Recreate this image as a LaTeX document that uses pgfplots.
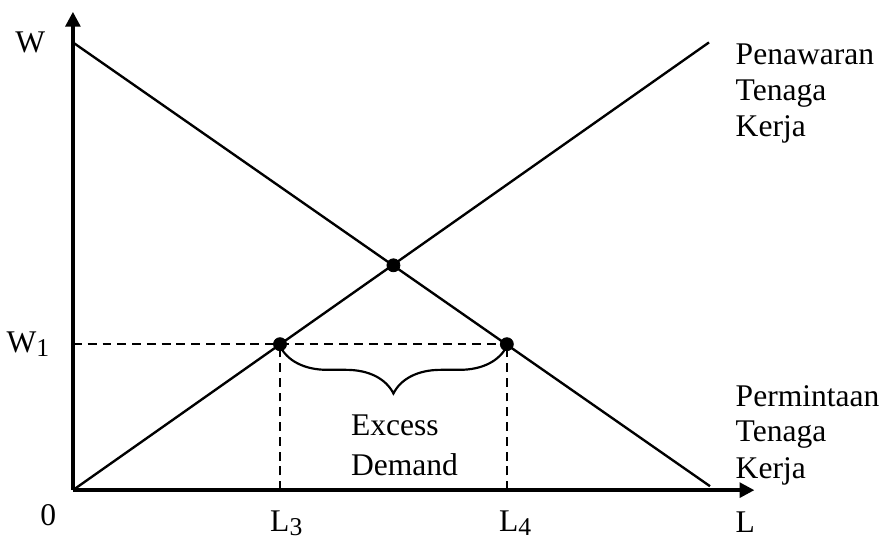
\documentclass[border=0pt]{standalone}
\usepackage{fontspec}
\setmainfont{Liberation Serif}
\usepackage{pgfplots}
\pgfplotsset{compat=1.18}
\usetikzlibrary{arrows.meta,decorations.pathreplacing}
\newcommand{\sub}[1]{\raisebox{-0.3ex}{\fontsize{13}{13}\selectfont #1}}

\begin{document}
\begin{tikzpicture}[font=\fontsize{16}{19}\selectfont]
\begin{axis}[
    x=0.5pt, y=0.5pt,
    xmin=0, xmax=691, ymin=0, ymax=485,
    enlargelimits=false,
    axis lines=left,
    axis line style={line width=1.7pt, -{Triangle[length=7.5pt,width=7.5pt]}},
    xtick=\empty, ytick=\empty,
    clip=false,
    every node/.append style={inner sep=0pt},
]
% kurva penawaran dan permintaan
\addplot[black, line width=1.2pt] coordinates {(0,0) (645,454)};
\addplot[black, line width=1.2pt] coordinates {(0,454) (646,4)};
% garis putus-putus
\addplot[black, line width=1pt, dash pattern=on 4.5pt off 3pt] coordinates {(0,148) (440,148)};
\addplot[black, line width=1pt, dash pattern=on 4.5pt off 3pt] coordinates {(210,0) (210,148)};
\addplot[black, line width=1pt, dash pattern=on 4.5pt off 3pt] coordinates {(440,0) (440,148)};
% titik
\addplot[only marks, mark=*, mark size=3.3pt, black] coordinates {(210,148) (440,148) (325,228)};
% kurung kurawal
\draw[line width=1.1pt, decorate, decoration={brace, mirror, amplitude=24pt}]
    (axis cs:210,146) -- (axis cs:440,146);
% label
\node[anchor=base east] at (axis cs:-21,444) {W};
\node[anchor=base east] at (axis cs:-17,140) {W\sub{1}};
\node[anchor=base] at (axis cs:-25,-36) {0};
\node[anchor=base west] at (axis cs:193,-42) {L\sub{3}};
\node[anchor=base west] at (axis cs:425,-42) {L\sub{4}};
\node[anchor=base west] at (axis cs:665,-43) {L};
\node[anchor=base west] at (axis cs:665,432) {Penawaran};
\node[anchor=base west] at (axis cs:665,395) {Tenaga};
\node[anchor=base west] at (axis cs:665,359) {Kerja};
\node[anchor=base west] at (axis cs:665,85) {Permintaan};
\node[anchor=base west] at (axis cs:665,49) {Tenaga};
\node[anchor=base west] at (axis cs:665,12) {Kerja};
\node[anchor=base west] at (axis cs:275,55) {Excess};
\node[anchor=base west] at (axis cs:275,15) {Demand};
% batas gambar
\path (axis cs:-70,-49) rectangle (axis cs:816,497);
\end{axis}
\end{tikzpicture}
\end{document}
